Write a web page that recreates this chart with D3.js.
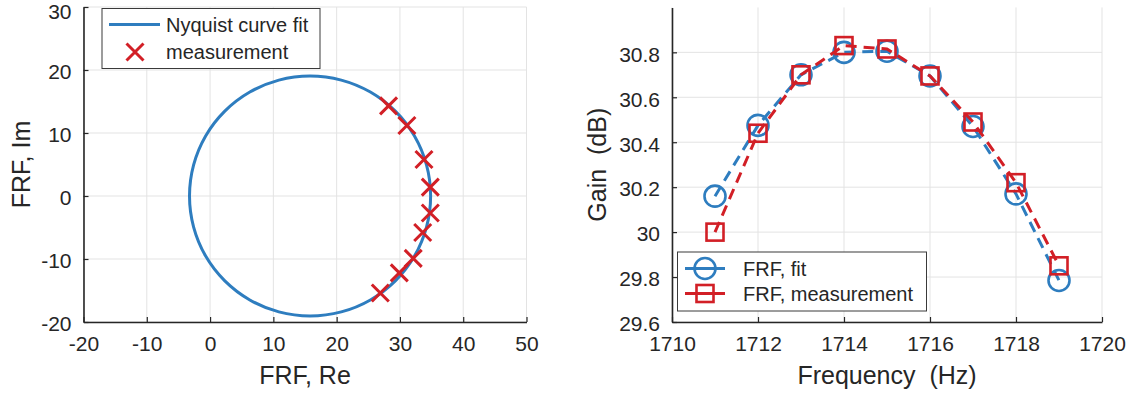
<!DOCTYPE html>
<html>
<head>
<meta charset="utf-8">
<script src="https://cdn.jsdelivr.net/npm/d3@7"></script>
<style>
  html, body { margin: 0; padding: 0; background: #fff; }
  svg { display: block; }
  text { font-family: "Liberation Sans", Arial, Helvetica, sans-serif; fill: #262626; }
</style>
</head>
<body>
<svg id="chart" width="1135" height="398"></svg>
<script>
// ---------- Data ----------
// Left panel: Nyquist curve fit (points along the fitted curve)
const fitRe = [34.85, 34.20, 32.30, 29.27, 25.33, 20.73, 15.80, 10.87, 6.28, 2.33, -0.70, -2.60,
               -3.25, -2.60, -0.70, 2.33, 6.28, 10.87, 15.80, 20.73, 25.33, 29.27, 32.30, 34.20];
const fitIm = [0.00, 4.93, 9.53, 13.47, 16.50, 18.40, 19.05, 18.40, 16.50, 13.47, 9.53, 4.93,
               0.00, -4.93, -9.53, -13.47, -16.50, -18.40, -19.05, -18.40, -16.50, -13.47, -9.53, -4.93];
// Left panel: measurement points
const measRe = [28.2, 31.1, 33.8, 34.8, 34.8, 33.6, 32.1, 29.9, 26.9];
const measIm = [14.3, 11.2, 5.8, 1.4, -2.7, -5.8, -9.9, -12.2, -15.4];
const nyqXTicks = [-20, -10, 0, 10, 20, 30, 40, 50];
const nyqYTicks = [-20, -10, 0, 10, 20, 30];

// Right panel: gain vs frequency
const freqHz = [1711, 1712, 1713, 1714, 1715, 1716, 1717, 1718, 1719];
const gainFit = [30.16, 30.475, 30.70, 30.80, 30.805, 30.695, 30.47, 30.17, 29.785];
const gainMeas = [30.00, 30.44, 30.70, 30.83, 30.815, 30.695, 30.49, 30.22, 29.85];
const freqTicks = [1710, 1712, 1714, 1716, 1718, 1720];
const gainTicks = [29.6, 29.8, 30, 30.2, 30.4, 30.6, 30.8];

const legendLeft = ["Nyquist curve fit", "measurement"];
const legendRight = ["FRF, fit", "FRF, measurement"];

// ---------- Styles ----------
const BLUE = "#2e7dbf";
const RED = "#d21f26";
const AXIS = "#262626";
const GRID = "#e3e3e3";
const TICK_FS = 21, LABEL_FS = 25, LEG_FS = 20;

const svg = d3.select("#chart");

function fmt(d) { return String(d); }

function drawGrid(g, x, y, xTicks, yTicks) {
  const [x0, x1] = x.range();
  const [y0, y1] = y.range();
  const grid = g.append("g");
  grid.selectAll(".gx").data(xTicks).join("line")
    .attr("x1", d => x(d)).attr("x2", d => x(d))
    .attr("y1", y0).attr("y2", y1)
    .attr("stroke", GRID).attr("stroke-width", 1);
  grid.selectAll(".gy").data(yTicks).join("line")
    .attr("x1", x0).attr("x2", x1)
    .attr("y1", d => y(d)).attr("y2", d => y(d))
    .attr("stroke", GRID).attr("stroke-width", 1);
}

function finishAxes(g, x, y, xTicks, yTicks, xLabel, yLabel, yLabelX) {
  const [x0, x1] = x.range();
  const [y0, y1] = y.range();
  const ax = g.append("g").attr("transform", `translate(0,${y0})`)
    .call(d3.axisBottom(x).tickValues(xTicks).tickFormat(fmt)
      .tickSizeInner(-5).tickSizeOuter(0).tickPadding(14));
  const ay = g.append("g").attr("transform", `translate(${x0},0)`)
    .call(d3.axisLeft(y).tickValues(yTicks).tickFormat(fmt)
      .tickSizeInner(-5).tickSizeOuter(0).tickPadding(12));
  // keep labels near the top edge fully inside the picture
  ay.selectAll(".tick text").attr("dy", d => (y(d) < 14 ? "0.57em" : "0.42em"));
  [ax, ay].forEach(a => {
    a.select(".domain").attr("stroke", AXIS).attr("stroke-width", 1.6);
    a.selectAll(".tick line").attr("stroke", AXIS).attr("stroke-width", 1.2);
    a.selectAll(".tick text").attr("fill", AXIS)
      .style("font-size", TICK_FS + "px")
      .style("font-family", '"Liberation Sans", Arial, sans-serif');
  });
  g.append("text")
    .attr("x", (x0 + x1) / 2).attr("y", 384)
    .attr("text-anchor", "middle")
    .style("font-size", LABEL_FS + "px").style("white-space", "pre")
    .text(xLabel);
  g.append("text")
    .attr("transform", `translate(${yLabelX},${(y0 + y1) / 2}) rotate(-90)`)
    .attr("text-anchor", "middle").attr("dominant-baseline", "central")
    .style("font-size", LABEL_FS + "px").style("white-space", "pre")
    .text(yLabel);
}

function crossPath(s) {
  return `M${-s},${-s}L${s},${s}M${-s},${s}L${s},${-s}`;
}

// ---------- Left panel: Nyquist ----------
{
  const g = svg.append("g");
  const x = d3.scaleLinear().domain([-20, 50]).range([83.5, 526.5]);
  const y = d3.scaleLinear().domain([-20, 30]).range([322, 7]);
  drawGrid(g, x, y, nyqXTicks, nyqYTicks);

  const pts = fitRe.map((r, i) => [r, fitIm[i]]);
  g.append("path")
    .datum(pts)
    .attr("d", d3.line().x(d => x(d[0])).y(d => y(d[1])).curve(d3.curveCatmullRomClosed.alpha(0.5)))
    .attr("fill", "none").attr("stroke", BLUE).attr("stroke-width", 3);

  const meas = measRe.map((r, i) => [r, measIm[i]]);
  g.selectAll(".mx").data(meas).join("path")
    .attr("transform", d => `translate(${x(d[0])},${y(d[1])})`)
    .attr("d", crossPath(8.5))
    .attr("fill", "none").attr("stroke", RED).attr("stroke-width", 3);

  finishAxes(g, x, y, nyqXTicks, nyqYTicks, "FRF, Re", "FRF, Im", 21);

  // legend
  const lg = g.append("g");
  lg.append("rect").attr("x", 102).attr("y", 8.5).attr("width", 218).attr("height", 60)
    .attr("fill", "#fff").attr("stroke", "#3a3a3a").attr("stroke-width", 1);
  lg.append("line").attr("x1", 109).attr("x2", 160).attr("y1", 24.5).attr("y2", 24.5)
    .attr("stroke", BLUE).attr("stroke-width", 3);
  lg.append("path").attr("transform", "translate(135,52)").attr("d", crossPath(8.5))
    .attr("fill", "none").attr("stroke", RED).attr("stroke-width", 3);
  lg.selectAll(".lt").data(legendLeft).join("text")
    .attr("x", 166).attr("y", (d, i) => i === 0 ? 24.5 : 52)
    .attr("dominant-baseline", "central")
    .style("font-size", LEG_FS + "px").text(d => d);
}

// ---------- Right panel: Gain ----------
{
  const g = svg.append("g");
  const x = d3.scaleLinear().domain([1710, 1720]).range([672, 1102]);
  const y = d3.scaleLinear().domain([29.6, 31.0]).range([322, 7.4]);
  drawGrid(g, x, y, freqTicks, gainTicks);

  const line = d3.line().x(d => x(d[0])).y(d => y(d[1]));
  const fitPts = freqHz.map((f, i) => [f, gainFit[i]]);
  const measPts = freqHz.map((f, i) => [f, gainMeas[i]]);

  g.append("path").datum(fitPts).attr("d", line)
    .attr("fill", "none").attr("stroke", BLUE).attr("stroke-width", 3)
    .attr("stroke-dasharray", "11,7");
  g.selectAll(".mc").data(fitPts).join("circle")
    .attr("cx", d => x(d[0])).attr("cy", d => y(d[1])).attr("r", 10.5)
    .attr("fill", "none").attr("stroke", BLUE).attr("stroke-width", 2.6);

  g.append("path").datum(measPts).attr("d", line)
    .attr("fill", "none").attr("stroke", RED).attr("stroke-width", 3)
    .attr("stroke-dasharray", "11,7");
  const S = 17;
  g.selectAll(".ms").data(measPts).join("rect")
    .attr("x", d => x(d[0]) - S / 2).attr("y", d => y(d[1]) - S / 2)
    .attr("width", S).attr("height", S)
    .attr("fill", "none").attr("stroke", RED).attr("stroke-width", 2.6);

  finishAxes(g, x, y, freqTicks, gainTicks, "Frequency  (Hz)", "Gain  (dB)", 597);

  // legend
  const lg = g.append("g");
  lg.append("rect").attr("x", 677.5).attr("y", 252).attr("width", 249).attr("height", 59)
    .attr("fill", "#fff").attr("stroke", "#3a3a3a").attr("stroke-width", 1);
  const rows = [268.5, 293.5];
  lg.append("line").attr("x1", 685).attr("x2", 725).attr("y1", rows[0]).attr("y2", rows[0])
    .attr("stroke", BLUE).attr("stroke-width", 3);
  lg.append("circle").attr("cx", 705).attr("cy", rows[0]).attr("r", 10.5)
    .attr("fill", "none").attr("stroke", BLUE).attr("stroke-width", 2.6);
  lg.append("line").attr("x1", 685).attr("x2", 725).attr("y1", rows[1]).attr("y2", rows[1])
    .attr("stroke", RED).attr("stroke-width", 3);
  lg.append("rect").attr("x", 705 - S / 2).attr("y", rows[1] - S / 2).attr("width", S).attr("height", S)
    .attr("fill", "none").attr("stroke", RED).attr("stroke-width", 2.6);
  lg.selectAll(".lt").data(legendRight).join("text")
    .attr("x", 743).attr("y", (d, i) => rows[i])
    .attr("dominant-baseline", "central")
    .style("font-size", LEG_FS + "px").text(d => d);
}
</script>
</body>
</html>
